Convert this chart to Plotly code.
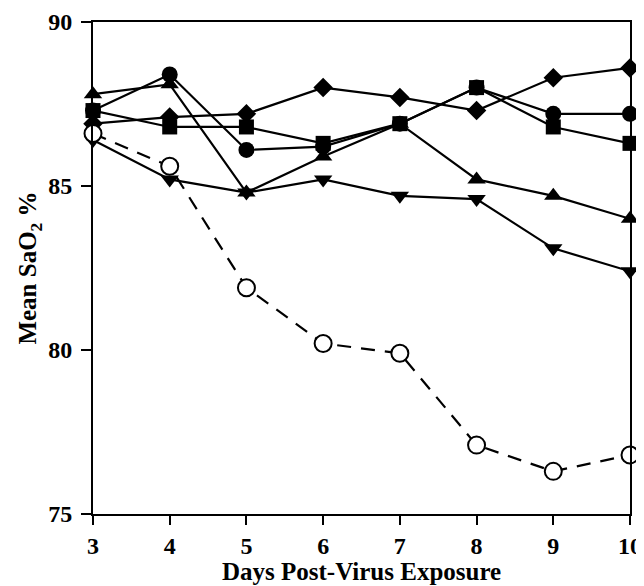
import plotly.graph_objects as go

days = [3, 4, 5, 6, 7, 8, 9, 10]

circle_vals = [87.3, 88.4, 86.1, 86.2, 86.9, 88.0, 87.2, 87.2]
square_vals = [87.3, 86.8, 86.8, 86.3, 86.9, 88.0, 86.8, 86.3]
diamond_vals = [86.9, 87.1, 87.2, 88.0, 87.7, 87.3, 88.3, 88.6]
tri_up_vals = [87.8, 88.1, 84.8, 85.9, 86.9, 85.2, 84.7, 84.0]
tri_down_vals = [86.4, 85.2, 84.8, 85.2, 84.7, 84.6, 83.1, 82.4]
open_circle_vals = [86.6, 85.6, 81.9, 80.2, 79.9, 77.1, 76.3, 76.8]

y_ticks = [75, 80, 85, 90]
x_ticks = [3, 4, 5, 6, 7, 8, 9, 10]

x_title = "Days Post-Virus Exposure"
y_title = "Mean SaO<sub>2</sub> %"

TICK_FONT = dict(family="Liberation Serif", size=24, color="black", weight="bold")
TITLE_FONT = dict(family="Liberation Serif", size=25, color="black", weight="bold")

fig = go.Figure()

solid_series = [
    (diamond_vals, "diamond", 15),
    (tri_down_vals, "triangle-down", 16),
    (tri_up_vals, "triangle-up", 16),
    (circle_vals, "circle", 16),
    (square_vals, "square", 15),
]
for vals, sym, sz in solid_series:
    fig.add_trace(go.Scatter(
        x=days, y=vals, mode="lines+markers",
        line=dict(color="black", width=2.2),
        marker=dict(symbol=sym, size=sz, color="black"),
        cliponaxis=False, showlegend=False,
    ))

fig.add_trace(go.Scatter(
    x=days, y=open_circle_vals, mode="lines+markers",
    line=dict(color="black", width=2.2, dash="14px,10px"),
    marker=dict(symbol="circle", size=17, color="white",
                line=dict(color="black", width=2)),
    cliponaxis=False, showlegend=False,
))

# the page body has an 8px default margin, so the figure is 8px smaller
fig.add_annotation(
    text=x_title, xref="paper", yref="paper", x=0.5, y=0,
    xanchor="center", yanchor="bottom", yshift=-72, showarrow=False,
    font=TITLE_FONT, borderpad=0,
)

fig.update_layout(
    width=636, height=578,
    margin=dict(l=85, r=14, t=14, b=72, autoexpand=False),
    paper_bgcolor="white", plot_bgcolor="white",
    font=TICK_FONT,
    xaxis=dict(
        range=[3, 10], tickvals=x_ticks, ticks="outside", ticklen=9,
        tickwidth=2, tickcolor="black", showline=True, linecolor="black",
        linewidth=2, mirror=True, showgrid=False, zeroline=False,
        ticklabelstandoff=0, automargin=False,
        tickfont=TICK_FONT,
    ),
    yaxis=dict(
        range=[75, 90], tickvals=y_ticks, ticks="outside", ticklen=10,
        tickwidth=2, tickcolor="black", showline=True, linecolor="black",
        linewidth=2, mirror=True, showgrid=False, zeroline=False,
        ticklabelstandoff=4, automargin=False,
        title=dict(text=y_title, standoff=4, font=TITLE_FONT),
        tickfont=TICK_FONT,
    ),
)

fig.write_html("out.html")
